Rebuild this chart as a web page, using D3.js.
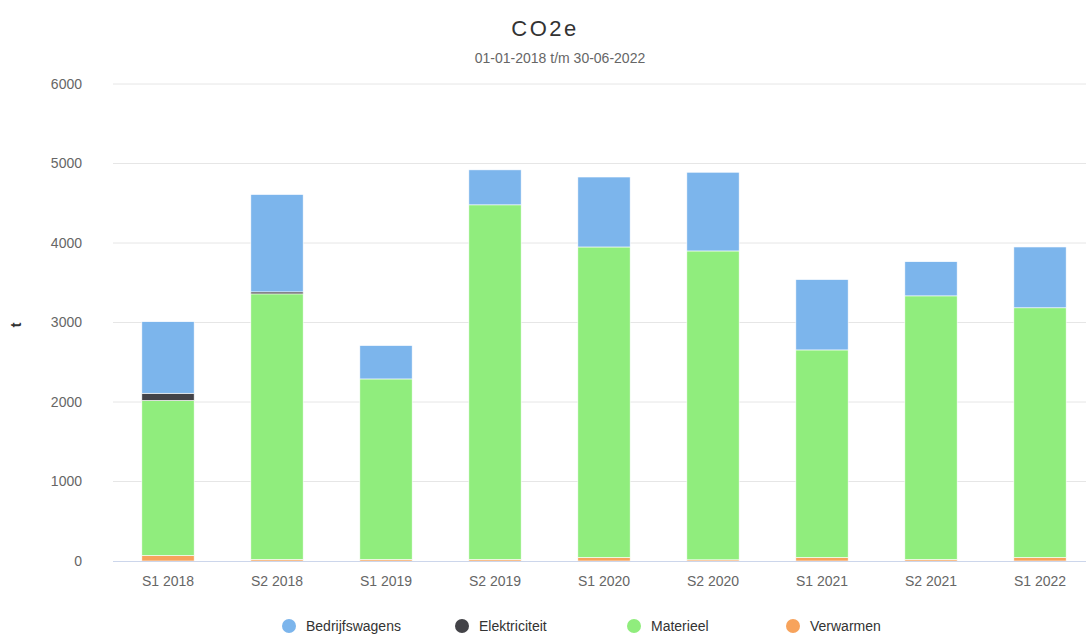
<!DOCTYPE html>
<html>
<head>
<meta charset="utf-8">
<script src="https://cdn.jsdelivr.net/npm/d3@7"></script>
<style>
  html, body { margin: 0; padding: 0; background: #fff; }
  svg { display: block; font-family: "Liberation Sans", Arial, sans-serif; }
</style>
</head>
<body>
<svg id="chart" width="1086" height="635"></svg>
<script>
const categories = ["S1 2018","S2 2018","S1 2019","S2 2019","S1 2020","S2 2020","S1 2021","S2 2021","S1 2022"];
const seriesNames = ["Bedrijfswagens","Elektriciteit","Materieel","Verwarmen"];
const seriesColors = ["#7cb5ec","#434348","#90ed7d","#f7a35c"];
const verwarmen      = [70, 20, 20, 20, 45, 15, 45, 20, 45];
const materieel      = [1950, 3340, 2270, 4460, 3905, 3885, 2610, 3315, 3140];
const elektriciteit  = [90, 25, 0, 0, 0, 0, 0, 0, 0];
const bedrijfswagens = [900, 1225, 420, 440, 880, 990, 885, 430, 765];
const yTicks = [0, 1000, 2000, 3000, 4000, 5000, 6000];

const svg = d3.select("#chart");
const x = d3.scaleBand().domain(categories).range([113.5, 1094.5]).paddingInner(0.52).paddingOuter(0.26);
const y = d3.scaleLinear().domain([0, 6000]).range([561, 84]);

// title
svg.append("text").attr("x", 545).attr("y", 36).attr("text-anchor", "middle")
  .attr("font-size", 22).attr("letter-spacing", 2.5).attr("fill", "#333").text("CO2e");
svg.append("text").attr("x", 560).attr("y", 63).attr("text-anchor", "middle")
  .attr("font-size", 14).attr("fill", "#666").text("01-01-2018 t/m 30-06-2022");

// grid
svg.append("g").selectAll("line").data(yTicks.slice(1)).join("line")
  .attr("x1", 113).attr("x2", 1086).attr("y1", d => y(d)).attr("y2", d => y(d))
  .attr("stroke", "#e6e6e6").attr("stroke-width", 1);

// y axis
const yAxis = svg.append("g").attr("transform", "translate(85,0)")
  .call(d3.axisLeft(y).tickValues(yTicks).tickSize(0).tickFormat(d3.format("d")));
yAxis.select(".domain").remove();
yAxis.selectAll("text").attr("font-size", 14).attr("fill", "#666").attr("font-family", "Liberation Sans, Arial, sans-serif").attr("dy", "0.32em");

svg.append("text").attr("transform", "translate(21,325) rotate(-90)").attr("text-anchor", "middle")
  .attr("font-size", 15).attr("font-weight", "bold").attr("fill", "#333").text("t");

// stacked data (bottom to top: Verwarmen, Materieel, Elektriciteit, Bedrijfswagens)
const rows = categories.map((c, i) => ({
  cat: c,
  Bedrijfswagens: bedrijfswagens[i],
  Elektriciteit: elektriciteit[i],
  Materieel: materieel[i],
  Verwarmen: verwarmen[i]
}));
const stackOrder = ["Verwarmen","Materieel","Elektriciteit","Bedrijfswagens"];
const stacked = d3.stack().keys(stackOrder)(rows);
const color = d3.scaleOrdinal().domain(seriesNames).range(seriesColors);

svg.append("g").selectAll("g").data(stacked).join("g")
  .attr("fill", d => color(d.key))
  .selectAll("rect").data(d => d).join("rect")
  .attr("x", d => x(d.data.cat))
  .attr("width", x.bandwidth())
  .attr("y", d => y(d[1]))
  .attr("height", d => Math.max(0, y(d[0]) - y(d[1])))
  .attr("stroke", "#fff").attr("stroke-width", 0.6);

// x axis
svg.append("line").attr("x1", 113).attr("x2", 1086).attr("y1", 561.5).attr("y2", 561.5)
  .attr("stroke", "#ccd6eb").attr("stroke-width", 1);
const xAxis = svg.append("g").attr("transform", "translate(0,561)")
  .call(d3.axisBottom(x).tickSize(0));
xAxis.select(".domain").remove();
xAxis.selectAll("text").attr("font-size", 14).attr("fill", "#666").attr("font-family", "Liberation Sans, Arial, sans-serif").attr("dy", "1.6em");

// legend
const legendX = [289, 462, 634, 793];
const lg = svg.append("g").selectAll("g").data(seriesNames).join("g")
  .attr("transform", (d, i) => `translate(${legendX[i]},626)`);
lg.append("circle").attr("r", 7).attr("fill", d => color(d));
lg.append("text").attr("x", 17).attr("dy", "0.35em").attr("font-size", 14)
  .attr("fill", "#333").text(d => d);
</script>
</body>
</html>
